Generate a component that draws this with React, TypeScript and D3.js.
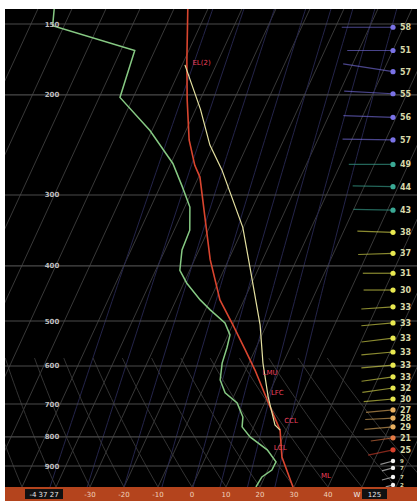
import React from 'react';
import * as d3 from 'd3';

const W = 417;
const H = 501;

// pressure levels (hPa) labelled on the left
const pressureTicks = [150, 200, 300, 400, 500, 600, 700, 800, 900];
// temperature labels along the bottom (°C)
const tempTicks = [-30, -20, -10, 0, 10, 20, 30, 40];

// environmental temperature profile
const envP = [136, 174, 204, 240, 266, 279, 390, 459, 508, 562, 610, 708, 778, 868, 980];
const envT = [-67.1, -59.2, -53.8, -47.8, -42.7, -39.6, -25.4, -17.1, -9.9, -2.9, 2.7, 12.1, 18.2, 22.4, 29.7];

// parcel trace
const parcelP = [177, 212, 245, 271, 342, 402, 508, 593, 680, 762, 778];
const parcelT = [-59.2, -48.6, -41.0, -34.1, -20.2, -12.7, -1.9, 4.1, 10.2, 16.0, 18.2];

// dew point profile
const dewP = [136, 151, 167, 202, 231, 264, 290, 315, 346, 375, 407, 429, 459, 478, 504, 529, 556, 593, 635, 669, 697, 738, 768, 800, 843, 885, 915, 941, 980];
const dewT = [-106.2, -103.4, -75.9, -73.9, -60.6, -49.4, -43.5, -38.5, -35.4, -35.0, -32.9, -29.1, -22.9, -18.6, -12.5, -9.4, -8.6, -7.9, -6.2, -3.0, 1.9, 5.5, 6.6, 10.3, 17.1, 21.3, 21.2, 19.2, 18.8];

// wind profile
const windP = [152, 167, 182, 199, 219, 240, 265, 290, 319, 349, 380, 412, 441, 472, 504, 536, 567, 598, 627, 656, 686, 717, 741, 768, 803, 843, 882, 907, 941, 972];
const windSpd = [58, 51, 57, 55, 56, 57, 49, 44, 43, 38, 37, 31, 30, 33, 33, 33, 33, 33, 33, 32, 30, 27, 28, 29, 21, 25, 9, 7, 7, 2];
const windDir = [270, 270, 279, 273, 272, 271, 270, 271, 271, 272, 268, 270, 270, 266, 265, 263, 265, 265, 262, 262, 265, 265, 267, 265, 262, 258, 255, 255, 255, 255];

// parcel level annotations
const levelNames = ['EL(2)', 'LMU', 'LFC', 'CCL', 'LCL', 'ML'];
const levelP = [175, 615, 668, 748, 835, 935];
const levelT = [-54.7, 7.4, 12.3, 20.1, 20.6, 37.8];

// background line families
const mixingRatios = [0.1, 0.3, 0.8, 2, 4, 7, 12, 20];
const adiabatBase = [-60, -50, -40, -30, -20, -10, 0, 10, 20, 30, 40, 50, 60, 70];

export default function App() {
  const yScale = d3.scaleLog().domain([150, 900]).range([24, 466]);
  const tScale = d3.scaleLinear().domain([-30, 40]).range([90, 328]);
  const pBot = 980;
  const pTop = 138;
  const yB = yScale(pBot);
  const skew = 0.46;
  const xOf = (T: number, p: number) => tScale(T) + skew * (yB - yScale(p));

  const line = d3
    .line<[number, number]>()
    .x((d) => xOf(d[1], d[0]))
    .y((d) => yScale(d[0]));

  const zip = (ps: number[], ts: number[]) => ps.map((p, i) => [p, ts[i]] as [number, number]);

  const pGrid = d3.range(0, 61).map((i) => pTop * Math.pow(pBot / pTop, i / 60));

  const isotherms = d3.range(-140, 70, 10);
  const mixLines = mixingRatios.map((w) =>
    pGrid.map((p) => {
      const e = (w * p) / (622 + w);
      const L = Math.log(e / 6.112);
      return [p, (243.5 * L) / (17.67 - L)] as [number, number];
    })
  );
  const dryLines = adiabatBase.map((t0) => {
    const theta = (t0 + 273.15) * Math.pow(1000 / pBot, 0.286);
    return pGrid
      .filter((p) => p >= 580)
      .map((p) => [p, theta * Math.pow(p / 1000, 0.286) - 273.15] as [number, number]);
  });

  const windColor = d3
    .scaleThreshold<number, string>()
    .domain([250, 330, 700, 790, 830, 870])
    .range(['#7a72e6', '#3aa894', '#e8e850', '#e8b060', '#e47a44', '#d8402c', '#f2f2f2']);

  const dotX = 393;

  return (
    <svg width={W} height={H} style={{ position: 'absolute', left: 0, top: 0, background: '#fff' }}>
      <defs>
        <clipPath id="plot">
          <rect x={5} y={9} width={412} height={478} />
        </clipPath>
      </defs>
      <rect x={5} y={9} width={412} height={478} fill="#000" />
      <g clipPath="url(#plot)" fill="none">
        {isotherms.map((t) => (
          <line
            key={'iso' + t}
            x1={xOf(t, pBot)}
            y1={yB}
            x2={xOf(t, pTop)}
            y2={yScale(pTop)}
            stroke="#383838"
            strokeWidth={1}
          />
        ))}
        {mixLines.map((d, i) => (
          <path key={'mix' + i} d={line(d) || ''} stroke="#24244a" strokeWidth={1} />
        ))}
        {dryLines.map((d, i) => (
          <path key={'dry' + i} d={line(d) || ''} stroke="#333" strokeWidth={1} />
        ))}
        {pressureTicks.map((p) => (
          <line key={'pl' + p} x1={5} x2={417} y1={yScale(p)} y2={yScale(p)} stroke="#4a4a4a" strokeWidth={1.2} />
        ))}
        <path d={line(zip(dewP, dewT)) || ''} stroke="#86c983" strokeWidth={1.5} />
        <path d={line(zip(envP, envT)) || ''} stroke="#d9452f" strokeWidth={1.6} />
        <path d={line(zip(parcelP, parcelT)) || ''} stroke="#e4e0a0" strokeWidth={1.2} />
      </g>
      {pressureTicks.map((p) => (
        <text
          key={'pt' + p}
          x={52}
          y={yScale(p) + 2.5}
          fontSize={7}
          fontFamily="DejaVu Sans, sans-serif"
          fontWeight="bold"
          textAnchor="middle"
          fill="#bdbdbd"
        >
          {p}
        </text>
      ))}
      {levelNames.map((n, i) => (
        <text
          key={'lv' + n}
          x={xOf(levelT[i], levelP[i])}
          y={yScale(levelP[i]) + 2.5}
          fontSize={7}
          fontFamily="DejaVu Sans, sans-serif"
          textAnchor="middle"
          fill="#f0405c"
        >
          {n}
        </text>
      ))}
      {windP.map((p, i) => {
        const y = yScale(p);
        const L = 6 + 0.78 * windSpd[i];
        const a = (windDir[i] * Math.PI) / 180;
        const c = windColor(p);
        const small = p > 870;
        return (
          <g key={'w' + i}>
            <line
              x1={dotX}
              y1={y}
              x2={dotX + Math.sin(a) * L}
              y2={y - Math.cos(a) * L}
              stroke={c}
              strokeOpacity={0.6}
              strokeWidth={1.2}
            />
            <circle cx={dotX} cy={y} r={small ? 2.2 : 2.6} fill={c} />
            <text
              x={400}
              y={y + (small ? 2 : 3)}
              fontSize={small ? 5.5 : 8}
              fontFamily="DejaVu Sans, sans-serif"
              fontWeight="bold"
              fill="#d8d8a8"
            >
              {windSpd[i]}
            </text>
          </g>
        );
      })}
      <rect x={5} y={487} width={412} height={14} fill="#b4441d" />
      {tempTicks.map((t) => (
        <text
          key={'tt' + t}
          x={tScale(t)}
          y={497}
          fontSize={7}
          fontFamily="DejaVu Sans, sans-serif"
          textAnchor="middle"
          fill="#f0d2bc"
        >
          {t}
        </text>
      ))}
      <rect x={25} y={489} width={38} height={10} fill="#111" />
      <text x={44} y={497} fontSize={7} fontFamily="DejaVu Sans, sans-serif" textAnchor="middle" fill="#e8e8e8">
        -4 37 27
      </text>
      <text x={357} y={497} fontSize={7} fontFamily="DejaVu Sans, sans-serif" textAnchor="middle" fill="#f0f0f0">
        W
      </text>
      <rect x={362} y={489} width={25} height={10} fill="#111" />
      <text x={374.5} y={497} fontSize={7} fontFamily="DejaVu Sans, sans-serif" textAnchor="middle" fill="#e8e8e8">
        125
      </text>
    </svg>
  );
}
